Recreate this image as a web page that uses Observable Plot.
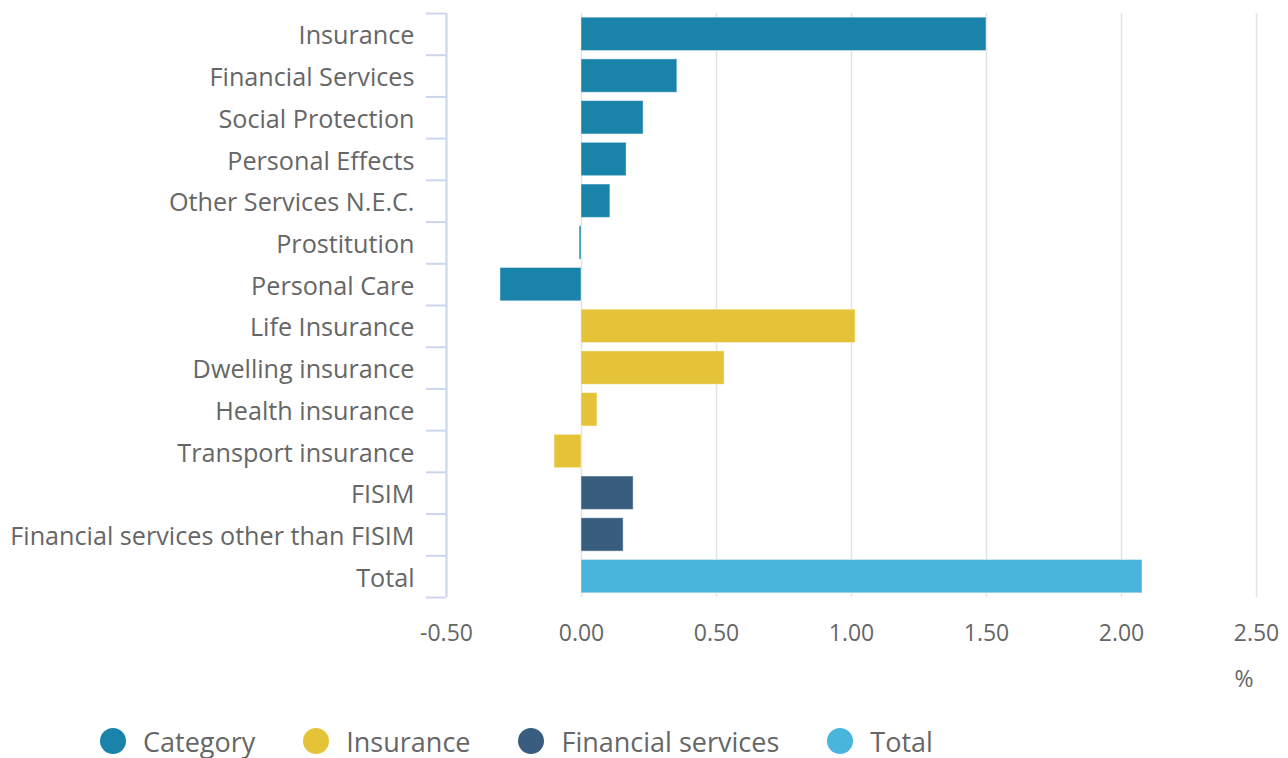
<!DOCTYPE html>
<html>
<head>
<meta charset="utf-8">
<script src="https://cdn.jsdelivr.net/npm/d3@7"></script>
<script src="https://cdn.jsdelivr.net/npm/@observablehq/plot@0.6"></script>
<style>
  body { margin: 0; background: #fff; font-family: "Open Sans", sans-serif; }
  #chart svg { display: block; }
  #legend { display: flex; align-items: center; padding-left: 100px; height: 58px; margin-top: 12px; font-size: 27px; color: #666; }
  .item { display: flex; align-items: center; margin-right: 48px; }
  .dot { width: 26px; height: 26px; border-radius: 50%; margin-right: 17px; }
</style>
</head>
<body>
<div id="chart"></div>
<div id="legend"></div>
<script>
const categories = ["Insurance", "Financial Services", "Social Protection", "Personal Effects", "Other Services N.E.C.", "Prostitution", "Personal Care", "Life Insurance", "Dwelling insurance", "Health insurance", "Transport insurance", "FISIM", "Financial services other than FISIM", "Total"];
const values = [1.50, 0.355, 0.23, 0.167, 0.107, -0.007, -0.30, 1.015, 0.53, 0.059, -0.10, 0.193, 0.156, 2.078];
const groups = ["Category", "Category", "Category", "Category", "Category", "Category", "Category", "Insurance", "Insurance", "Insurance", "Insurance", "Financial services", "Financial services", "Total"];
const seriesNames = ["Category", "Insurance", "Financial services", "Total"];
const seriesColors = ["#1a83aa", "#e4c338", "#385d7e", "#4ab5dc"];
const xTicks = [-0.5, 0, 0.5, 1.0, 1.5, 2.0, 2.5];

const data = categories.map((c, i) => ({category: c, value: values[i], group: groups[i]}));

const width = 1288, height = 700;
const marginTop = 13, marginBottom = 103, marginLeft = 446, marginRight = 32;
const step = (height - marginTop - marginBottom) / categories.length;

const plot = Plot.plot({
  width, height, marginTop, marginBottom, marginLeft, marginRight,
  style: {fontFamily: "'Open Sans', sans-serif", fontSize: "22px", color: "#666"},
  x: {domain: [-0.5, 2.5], ticks: xTicks, label: null},
  y: {domain: categories, paddingInner: 0.2, paddingOuter: 0.1, round: false, label: null},
  color: {domain: seriesNames, range: seriesColors},
  marks: [
    Plot.gridX(xTicks, {stroke: "#e3e3e3", strokeOpacity: 1, strokeWidth: 1.5}),
    Plot.barX(data, {x: "value", y: "category", fill: "group", stroke: "white", strokeOpacity: 0.45, strokeWidth: 1}),
    Plot.axisX({ticks: xTicks, tickFormat: d => d.toFixed(2), tickSize: 0, tickPadding: 27, fill: "#666", fontSize: 23, label: null}),
    Plot.text(["%"], {frameAnchor: "bottom-right", lineAnchor: "middle", dx: -3, dy: 82, fill: "#666", fontSize: 23}),
    Plot.ruleX([-0.5], {stroke: "#ccd6eb", strokeWidth: 2}),
    Plot.axisY({tickSize: 0, tickPadding: 32, dy: 2, fill: "#666", fontSize: 25.2, label: null}),
    Plot.axisY({tickSize: 20, stroke: "#ccd6eb", strokeWidth: 2, text: null, dy: -step / 2, label: null}),
    Plot.axisY([categories[categories.length - 1]], {tickSize: 20, stroke: "#ccd6eb", strokeWidth: 2, text: null, dy: step / 2, label: null})
  ]
});
document.getElementById("chart").appendChild(plot);

const legend = document.getElementById("legend");
seriesNames.forEach((name, i) => {
  const item = document.createElement("div");
  item.className = "item";
  const dot = document.createElement("span");
  dot.className = "dot";
  dot.style.background = seriesColors[i];
  const label = document.createElement("span");
  label.textContent = name;
  item.appendChild(dot);
  item.appendChild(label);
  legend.appendChild(item);
});
</script>
</body>
</html>
